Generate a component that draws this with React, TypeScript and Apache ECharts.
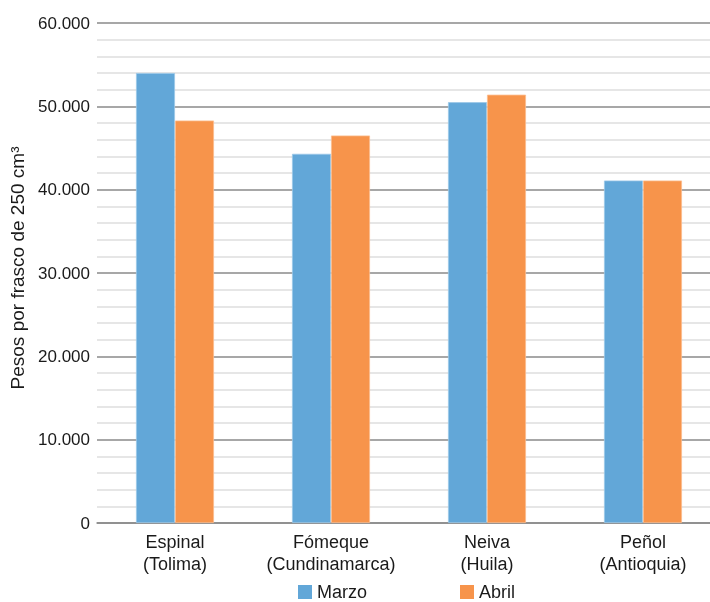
import React, { useEffect, useRef } from "react";
import * as echarts from "echarts";

const categories = ["Espinal\n(Tolima)", "Fómeque\n(Cundinamarca)", "Neiva\n(Huila)", "Peñol\n(Antioquia)"];
const marzo = [54000, 44300, 50500, 41100];
const abril = [48300, 46500, 51400, 41100];
const seriesNames = ["Marzo", "Abril"];
const yTicks = { min: 0, max: 60000, interval: 10000 };

const FONT = "Liberation Sans, Arial, Helvetica, sans-serif";

export default function App() {
  const ref = useRef<HTMLDivElement>(null);
  useEffect(() => {
    if (!ref.current) return;
    const chart = echarts.init(ref.current, undefined, { renderer: "svg" });
    chart.setOption({
      animation: false,
      textStyle: { fontFamily: FONT },
      grid: { left: 97, width: 624, top: 23, bottom: 79, containLabel: false, outerBoundsMode: "none" },
      legend: {
        data: seriesNames,
        top: 578,
        left: 293,
        itemWidth: 14,
        itemHeight: 14,
        itemGap: 93,
        icon: "rect",
        itemStyle: { borderWidth: 0 },
        textStyle: { fontSize: 18, lineHeight: 16, color: "#1a1a1a", fontFamily: FONT, padding: [0, 0, 0, 0] },
      },
      xAxis: {
        type: "category",
        data: categories,
        axisTick: { show: false },
        axisLine: { lineStyle: { color: "#8a8a8a", width: 1.5 } },
        axisLabel: { interval: 0, fontSize: 18, color: "#1a1a1a", lineHeight: 22, margin: 8, fontFamily: FONT },
      },
      yAxis: {
        type: "value",
        min: yTicks.min,
        max: yTicks.max,
        interval: yTicks.interval,
        name: "Pesos por frasco de 250 cm³",
        nameLocation: "middle",
        nameGap: 70,
        nameTextStyle: { fontSize: 19, color: "#1a1a1a", fontFamily: FONT, padding: [0, 0, 0, 10] },
        axisLine: { show: false },
        axisTick: { show: false },
        axisLabel: {
          fontSize: 17,
          color: "#1a1a1a",
          margin: 7,
          fontFamily: FONT,
          formatter: (v: number) => (v === 0 ? "0" : v.toLocaleString("de-DE")),
        },
        splitLine: { lineStyle: { color: "#8a8a8a", width: 1.5 } },
        minorTick: { show: false, splitNumber: 5 },
        minorSplitLine: { show: true, lineStyle: { color: "#e6e6e6", width: 2 } },
      },
      series: [
        {
          name: seriesNames[0],
          type: "bar",
          data: marzo,
          barGap: "0%",
          barCategoryGap: "50%",
          itemStyle: { color: "#62a7d8", borderColor: "#9cc8e8", borderWidth: 0.8 },
        },
        {
          name: seriesNames[1],
          type: "bar",
          data: abril,
          itemStyle: { color: "#f7944b", borderColor: "#fbbd8e", borderWidth: 0.8 },
        },
      ],
    });
    return () => chart.dispose();
  }, []);
  return <div ref={ref} style={{ position: "fixed", left: 0, top: 0, width: 710, height: 602 }} />;
}
